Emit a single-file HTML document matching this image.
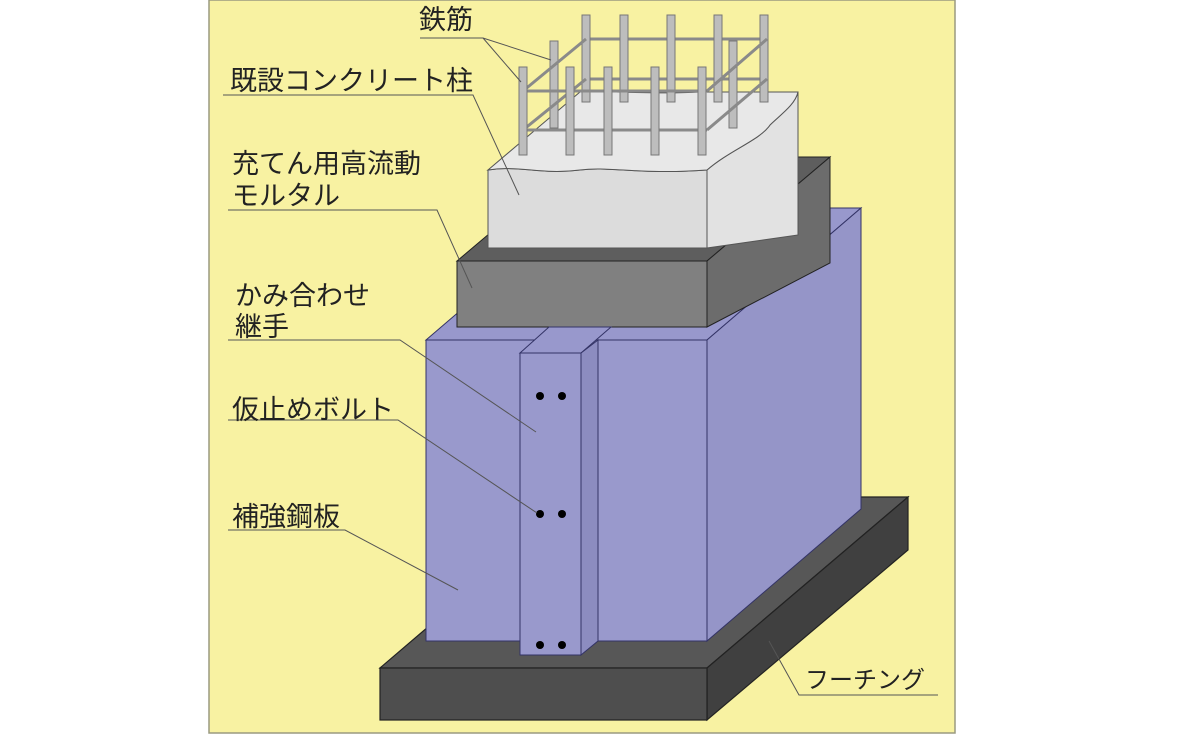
<!DOCTYPE html>
<html><head><meta charset="utf-8"><style>
html,body{margin:0;padding:0;background:#fff;}
svg{display:block;}
text{font-family:"Liberation Sans","Noto Sans CJK JP",sans-serif;font-size:27px;fill:#222;}
</style></head><body>
<svg width="1181" height="735" viewBox="0 0 1181 735" xmlns="http://www.w3.org/2000/svg">
<rect x="209" y="0" width="746" height="733" fill="#f8f2a2" stroke="#9a9a80" stroke-width="1.5"/>

<!-- footing -->
<polygon points="380,668 580,497 908,497 707,668" fill="#575757" stroke="#222" stroke-width="1.2"/>
<polygon points="707,668 908,497 908,550 707,720" fill="#404040" stroke="#222" stroke-width="1.2"/>
<rect x="380" y="668" width="327" height="52" fill="#4e4e4e" stroke="#222" stroke-width="1.2"/>

<!-- steel box -->
<polygon points="426,340 580,208 861,208 707,340" fill="#9898cc" stroke="#333366" stroke-width="1"/>
<polygon points="707,340 861,208 861,509 707,641" fill="#9595c8" stroke="#333366" stroke-width="1"/>
<rect x="426" y="340" width="281" height="301" fill="#9999cc" stroke="#333366" stroke-width="1"/>

<!-- mortar -->
<polygon points="457,261 580,157 830,157 707,261" fill="#5e5e5e" stroke="#222" stroke-width="1"/>
<polygon points="707,261 830,157 830,263 707,327" fill="#6c6c6c" stroke="#222" stroke-width="1"/>
<rect x="457" y="261" width="250" height="66" fill="#808080" stroke="#222" stroke-width="1"/>

<!-- joint strip -->
<polygon points="520,353 549,327 611,327 581,353" fill="#9898cc" stroke="#333366" stroke-width="1"/>
<polygon points="581,353 598,340 598,641 581,655" fill="#8c8cc0" stroke="#333366" stroke-width="1"/>
<rect x="520" y="353" width="61" height="302" fill="#9999cc" stroke="#333366" stroke-width="1"/>
<g fill="#000">
<circle cx="540" cy="396" r="4"/><circle cx="562" cy="396" r="4"/>
<circle cx="540" cy="514" r="4"/><circle cx="562" cy="514" r="4"/>
<circle cx="540" cy="645" r="4"/><circle cx="562" cy="645" r="4"/>
</g>

<!-- concrete column -->
<path d="M488,170 C520,165 540,175 580,170 C610,166 640,175 707,170 L707,248 L488,248 Z" fill="#dcdcdc" stroke="#555" stroke-width="1"/>
<path d="M707,170 C730,150 760,140 770,125 C780,115 795,105 798,92 L798,235 L707,248 Z" fill="#e2e2e2" stroke="#555" stroke-width="1"/>
<path d="M488,170 C520,165 540,175 580,170 C610,166 640,175 707,170 C730,150 760,140 770,125 C780,115 795,105 798,92 L700,92 C650,95 600,90 580,92 Z" fill="#e8e8e8" stroke="#555" stroke-width="1"/>

<!-- rebars back -->
<g stroke="#8a8a8a" stroke-width="3" fill="none">
<polyline points="586,39 767,39"/>
<polyline points="586,79 767,79"/>
</g>
<g fill="#bdbdbd" stroke="#777" stroke-width="1">
<rect x="582" y="15" width="8" height="87"/><rect x="620" y="15" width="8" height="87"/>
<rect x="667" y="15" width="8" height="87"/><rect x="714" y="15" width="8" height="87"/>
<rect x="760" y="15" width="8" height="87"/>
<rect x="550" y="41" width="8" height="87"/><rect x="729" y="41" width="8" height="87"/>
</g>
<g stroke="#8a8a8a" stroke-width="3" fill="none">
<polyline points="523,91 586,39"/><polyline points="707,91 767,39"/>
<polyline points="523,130 586,79"/><polyline points="707,130 767,79"/>
<polyline points="520,91 707,91"/>
<polyline points="520,130 707,130"/>
</g>
<g fill="#bdbdbd" stroke="#777" stroke-width="1">
<rect x="519" y="67" width="8" height="88"/><rect x="566" y="67" width="8" height="88"/>
<rect x="604" y="67" width="8" height="88"/><rect x="651" y="67" width="8" height="88"/>
<rect x="698" y="67" width="8" height="88"/>
</g>

<!-- labels -->
<g stroke="#555" stroke-width="1" fill="none">
<polyline points="420,38 483,38 551,60"/><polyline points="483,38 521,82"/>
<polyline points="223,95 473,95 519,195"/>
<polyline points="228,210 437,210 472,288"/>
<polyline points="228,340 400,340 536,432"/>
<polyline points="228,420 398,420 537,513"/>
<polyline points="228,530 345,530 458,590"/>
<polyline points="769,641 799,695 938,695"/>
</g>
<text x="419" y="29">鉄筋</text>
<text x="230" y="90">既設コンクリート柱</text>
<text x="232" y="173">充てん用高流動</text>
<text x="232" y="205">モルタル</text>
<text x="235" y="305">かみ合わせ</text>
<text x="235" y="336">継手</text>
<text x="232" y="419">仮止めボルト</text>
<text x="232" y="526">補強鋼板</text>
<text x="805" y="688" style="font-size:24px">フーチング</text>
</svg>
</body></html>
